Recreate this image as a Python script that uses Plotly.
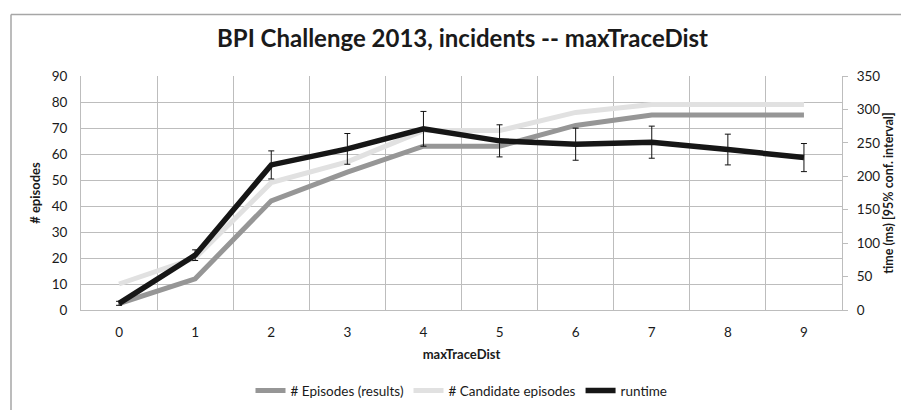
import plotly.graph_objects as go

categories = ["0", "1", "2", "3", "4", "5", "6", "7", "8", "9"]
episodes_results = [2.5, 12, 42, 53, 63, 63, 71, 75, 75, 75]
candidate_episodes = [10, 20, 49, 57, 69, 69, 76, 79, 79, 79]
runtime_ms = [10, 82, 217, 241, 271, 253, 248, 251, 240, 228]
runtime_ci = [3, 8, 21, 23, 26, 24, 24, 24, 23, 21]

FONT = "Lato"

fig = go.Figure()
fig.add_trace(go.Scatter(
    x=categories, y=episodes_results, name="# Episodes (results)",
    mode="lines", line=dict(color="#969696", width=5), yaxis="y"))
fig.add_trace(go.Scatter(
    x=categories, y=candidate_episodes, name="# Candidate episodes",
    mode="lines", line=dict(color="#e1e1e1", width=5), yaxis="y"))
fig.add_trace(go.Scatter(
    x=categories, y=runtime_ms, name="runtime",
    mode="lines", line=dict(color="#161616", width=5.5), yaxis="y2",
    error_y=dict(type="data", array=runtime_ci, visible=True,
                 color="#111111", thickness=1, width=3)))

fig.update_layout(
    width=909, height=410,
    margin=dict(l=73, r=75, t=68, b=102),
    paper_bgcolor="white", plot_bgcolor="white",
    font=dict(family=FONT, color="#1a1a1a", size=13),
    title=dict(text="<b>BPI Challenge 2013, incidents -- maxTraceDist</b>",
               x=0.5, xanchor="center", y=0.925, yanchor="middle",
               font=dict(size=24, family=FONT, color="#1a1a1a")),
    xaxis=dict(type="category", range=[-0.5, 9.5], tickson="boundaries",
               showgrid=True, gridcolor="#bdbdbd", gridwidth=1,
               showline=True, linecolor="#bdbdbd", linewidth=1,
               ticks="", tickfont=dict(size=13.5), ticklabelstandoff=10,
               title=dict(text="<b>maxTraceDist</b>", font=dict(size=13), standoff=10),
               zeroline=False),
    yaxis=dict(range=[0, 90], dtick=10, showgrid=True, gridcolor="#bdbdbd",
               gridwidth=1, showline=True, linecolor="#bdbdbd", ticks="",
               tickfont=dict(size=13.5), zeroline=False, ticklabelstandoff=10,
               title=dict(text="<b># episodes</b>", font=dict(size=13), standoff=8)),
    yaxis2=dict(range=[0, 350], dtick=50, overlaying="y", side="right",
                showgrid=False, showline=True, linecolor="#bdbdbd",
                ticks="outside", ticklen=5, tickcolor="#bdbdbd",
                tickfont=dict(size=13.5), zeroline=False, ticklabelstandoff=6,
                title=dict(text="<b>time (ms) [95% conf. interval]</b>",
                           font=dict(size=12.5), standoff=4)),
    legend=dict(orientation="h", x=0.5, xanchor="center", y=-0.345, yanchor="middle",
                font=dict(size=13.5), itemwidth=30, tracegroupgap=0,
                bgcolor="rgba(0,0,0,0)"),
    showlegend=True,
)

# outer chart frame (top and left edges visible in the reference)
fig.add_shape(type="line", xref="paper", yref="paper",
              x0=(3 - 73) / 761, x1=(920 - 73) / 761,
              y0=(308 - 5) / 240, y1=(308 - 5) / 240,
              line=dict(color="#a6a6a6", width=1.5))
fig.add_shape(type="line", xref="paper", yref="paper",
              x0=(3 - 73) / 761, x1=(3 - 73) / 761,
              y0=(308 - 5) / 240, y1=(308 - 420) / 240,
              line=dict(color="#a6a6a6", width=1.5))

fig.write_html("out.html")
